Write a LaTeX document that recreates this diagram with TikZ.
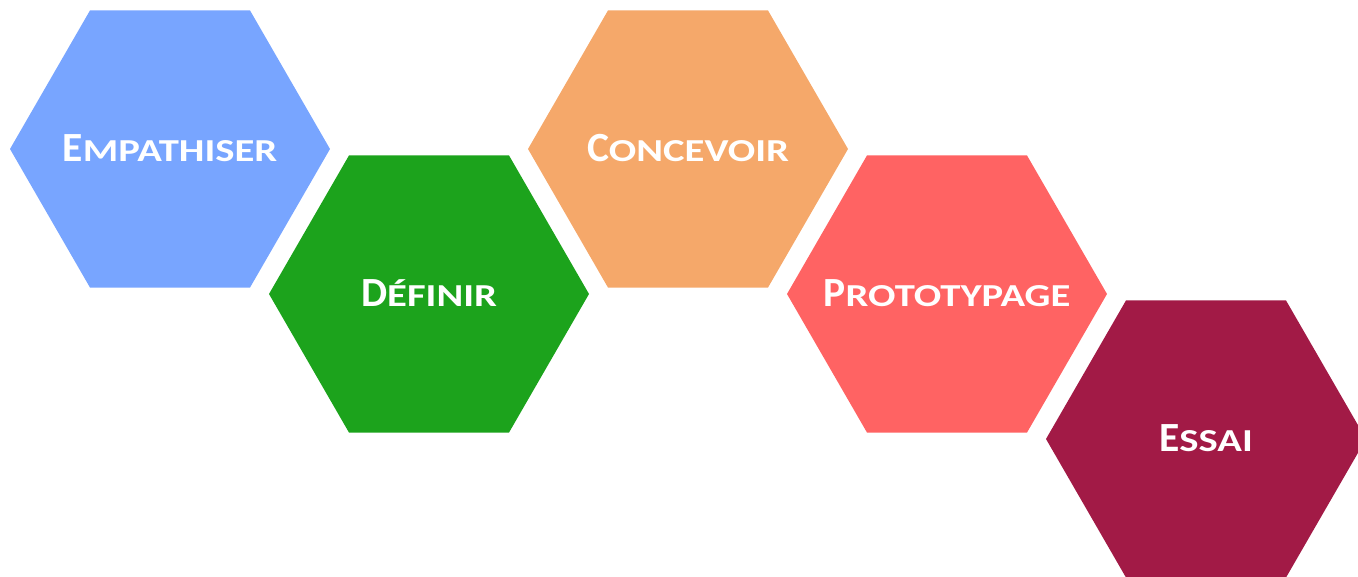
\documentclass[tikz,border=0pt]{standalone}
\usepackage{fontspec}
\usepackage{graphicx}
\setmainfont{Carlito}
\usetikzlibrary{shapes.geometric}
\definecolor{cblue}{HTML}{78A5FF}
\definecolor{cgreen}{HTML}{1CA31C}
\definecolor{corange}{HTML}{F5A86A}
\definecolor{cred}{HTML}{FF6363}
\definecolor{cmaroon}{HTML}{A21A46}
\newcommand\fakesc[2]{{\fontsize{41.5}{50}\selectfont #1}\scalebox{1.27}[1]{\fontsize{32}{40}\selectfont #2}}
\tikzset{
  hexa/.style={regular polygon, regular polygon sides=6, minimum size=320pt,
    inner sep=0pt, outer sep=0pt, draw=none, fill=#1},
  hexlabel/.style={anchor=base, yshift=-12.5pt, inner sep=0pt, text=white, font=\bfseries},
}
\begin{document}
\begin{tikzpicture}[x=1pt,y=1pt]
\useasboundingbox (0,0) rectangle (1358,577);
\clip (0,0) rectangle (1358,577);
\node[hexa=cblue] (emp) at (170,428) {};
\node[hexa=cgreen] (def) at (429,283) {};
\node[hexa=corange] (con) at (688,428) {};
\node[hexa=cred] (pro) at (947,283) {};
\node[hexa=cmaroon] (ess) at (1206,138) {};
\node[hexlabel] (tEmp) at (emp.center) {\fakesc{E}{MPATHISER}};
\node[hexlabel] (tDef) at (def.center) {\fakesc{D}{ÉFINIR}};
\node[hexlabel] (tCon) at (con.center) {\fakesc{C}{ONCEVOIR}};
\node[hexlabel] (tPro) at (pro.center) {\fakesc{P}{ROTOTYPAGE}};
\node[hexlabel] (tEss) at (ess.center) {\fakesc{E}{SSAI}};
\end{tikzpicture}
\end{document}
